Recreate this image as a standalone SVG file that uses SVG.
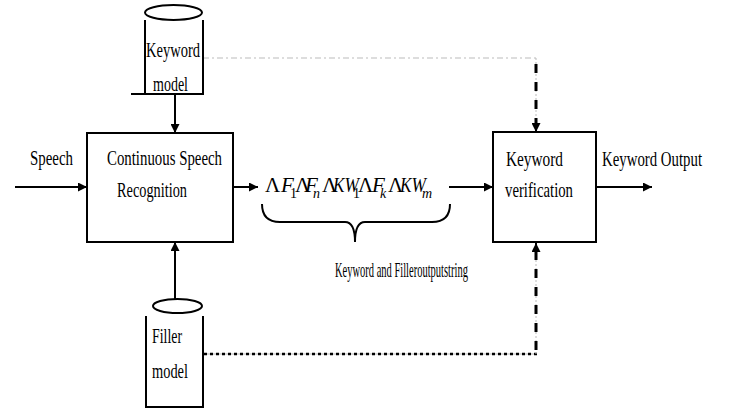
<svg xmlns="http://www.w3.org/2000/svg" width="735" height="414" viewBox="0 0 735 414">
<style>
text{font-family:"Liberation Serif","Times New Roman","DejaVu Serif",serif;fill:#000}
.t{font-size:21px}
.f{font-size:21px}
.fi{font-style:italic}
.sub{font-size:14px}
.box{fill:#fff;stroke:#000;stroke-width:2}
.ln{fill:none;stroke:#000;stroke-width:2}
.cyl{fill:none;stroke:#000;stroke-width:2}
</style>
<defs>
<marker id="ah" viewBox="0 0 10 10" refX="10" refY="5" markerWidth="5" markerHeight="4.5" orient="auto" markerUnits="strokeWidth">
<path d="M0,0 L10,5 L0,10 z" fill="#000"/>
</marker>
</defs>
<rect width="735" height="414" fill="#fff"/>
<g id="connectors">
<line class="ln" x1="15" y1="187" x2="87" y2="187" marker-end="url(#ah)"/>
<line class="ln" x1="233" y1="187" x2="258" y2="187" marker-end="url(#ah)"/>
<line class="ln" x1="449" y1="187" x2="493" y2="187" marker-end="url(#ah)"/>
<line class="ln" x1="596" y1="187" x2="652" y2="187" marker-end="url(#ah)"/>
<line class="ln" x1="175" y1="94" x2="175" y2="133" marker-end="url(#ah)"/>
<line class="ln" x1="175" y1="299" x2="175" y2="242" marker-end="url(#ah)"/>
<line x1="203" y1="58" x2="537" y2="58" stroke="#bbb" stroke-width="1" stroke-dasharray="6 3 2 3"/>
<line x1="536" y1="58" x2="536" y2="125" stroke="#bbb" stroke-width="1" stroke-dasharray="2 2"/>
<line x1="536" y1="64" x2="536" y2="124" stroke="#000" stroke-width="3" stroke-dasharray="9 9"/>
<line class="ln" x1="536" y1="118" x2="536" y2="132" marker-end="url(#ah)"/>
<line x1="203" y1="354" x2="537" y2="354" stroke="#bbb" stroke-width="1"/>
<line x1="204" y1="354" x2="537" y2="354" stroke="#000" stroke-width="2.5" stroke-dasharray="3 3"/>
<line x1="536" y1="354" x2="536" y2="252" stroke="#bbb" stroke-width="1" stroke-dasharray="2 2"/>
<line x1="536" y1="350" x2="536" y2="252" stroke="#000" stroke-width="3" stroke-dasharray="9 9"/>
<line class="ln" x1="536" y1="256" x2="536" y2="243" marker-end="url(#ah)"/>
</g>
<g id="keyword-model">
<ellipse cx="173.5" cy="12.5" rx="28.5" ry="7.5" class="cyl"/>
<path class="cyl" d="M145,20 V94 M203,20 V94 M131,94 H204"/>
<text class="t" x="146" y="57" textLength="54" lengthAdjust="spacingAndGlyphs">Keyword</text>
<text class="t" x="153" y="91" textLength="35" lengthAdjust="spacingAndGlyphs">model</text>
</g>
<g id="csr">
<rect class="box" x="87" y="133" width="146" height="109"/>
<text class="t" x="107" y="165" textLength="115" lengthAdjust="spacingAndGlyphs">Continuous Speech</text>
<text class="t" x="117" y="197" textLength="70" lengthAdjust="spacingAndGlyphs">Recognition</text>
</g>
<g id="speech-label">
<text class="t" x="30" y="165" textLength="43" lengthAdjust="spacingAndGlyphs">Speech</text>
</g>
<g id="filler-model">
<ellipse cx="177.5" cy="306" rx="24.5" ry="7" class="cyl"/>
<path class="cyl" d="M146,316 V407 H203 V316"/>
<text class="t" x="152" y="343" textLength="30" lengthAdjust="spacingAndGlyphs">Filler</text>
<text class="t" x="152" y="378" textLength="36" lengthAdjust="spacingAndGlyphs">model</text>
</g>
<g id="output-string">
<text class="f" x="265" y="192">Λ</text>
<text class="f fi" x="281" y="192">F</text>
<text class="sub" x="290" y="198">1</text>
<text class="f" x="295" y="192">Λ</text>
<text class="f fi" x="305" y="192">F</text>
<text class="sub fi" x="313" y="198">n</text>
<text class="f" x="322" y="192">Λ</text>
<text class="f fi" x="333" y="192" textLength="26" lengthAdjust="spacingAndGlyphs">KW</text>
<text class="sub" x="353" y="198">1</text>
<text class="f" x="358" y="192">Λ</text>
<text class="f fi" x="372" y="192">F</text>
<text class="sub fi" x="380" y="198">k</text>
<text class="f" x="388" y="192">Λ</text>
<text class="f fi" x="400" y="192" textLength="26" lengthAdjust="spacingAndGlyphs">KW</text>
<text class="sub fi" x="422" y="198">m</text>
<path class="ln" stroke-width="1.5" d="M262,204 Q262,222 280,222 L345,222 Q355,222 355,242 Q355,222 365,222 L432,222 Q450,222 450,204"/>
<text class="t" transform="translate(335,277) scale(0.5,1)" x="0" y="0">Keyword and Filleroutputstring</text>
</g>
<g id="keyword-verification">
<rect class="box" x="493" y="132" width="103" height="110"/>
<text class="t" x="506" y="166" textLength="57" lengthAdjust="spacingAndGlyphs">Keyword</text>
<text class="t" x="505" y="197" textLength="68" lengthAdjust="spacingAndGlyphs">verification</text>
</g>
<g id="keyword-output">
<text class="t" x="602" y="166" textLength="100" lengthAdjust="spacingAndGlyphs">Keyword Output</text>
</g>
</svg>
